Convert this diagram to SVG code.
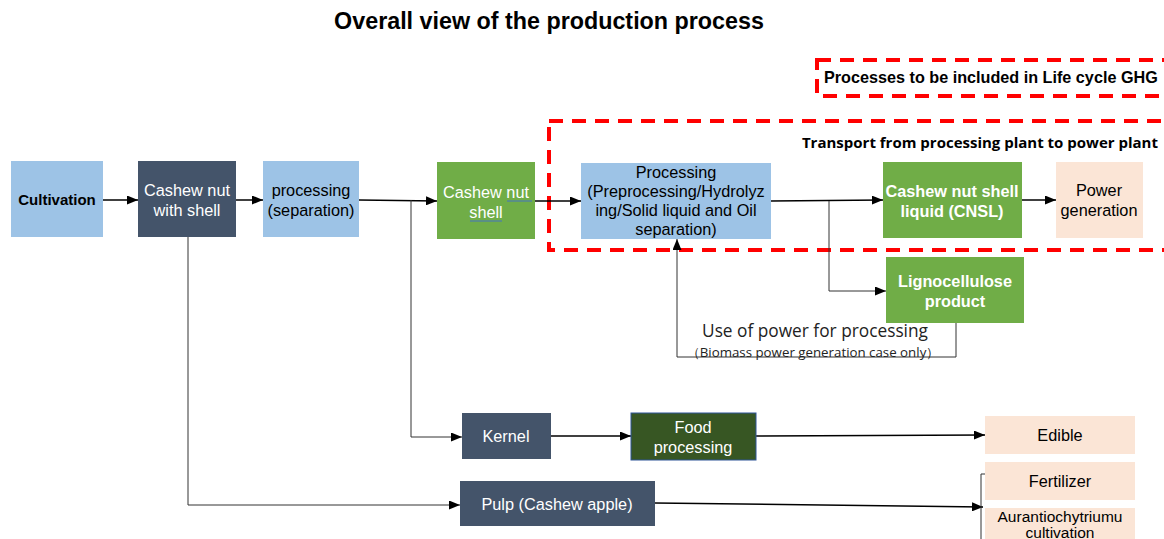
<svg xmlns="http://www.w3.org/2000/svg" width="1164" height="539" viewBox="0 0 1164 539">
<defs>
<marker id="arr" markerWidth="11" markerHeight="9" refX="11" refY="4.5" orient="auto" markerUnits="userSpaceOnUse">
<path d="M0,0 L11,4.5 L0,9 Z" fill="#000"/>
</marker>
<style>
text{font-family:"Liberation Sans",Arial,sans-serif;font-size:16.3px;text-anchor:middle}
.w{fill:#fff}
.k{fill:#000}
.b{font-weight:bold}
.blue{fill:#9DC3E6}
.navy{fill:#44546A}
.green{fill:#70AD47}
.peach{fill:#FBE5D6}
.dash{fill:none;stroke:#FF0000;stroke-width:4;stroke-dasharray:14,9}
.c{fill:none;stroke:#000;stroke-width:1.5}
.ca{fill:none;stroke:#000;stroke-width:1.5;marker-end:url(#arr)}
.cg{fill:none;stroke:#333;stroke-width:1}
.cga{fill:none;stroke:#333;stroke-width:1;marker-end:url(#arr)}
</style>
</defs>
<rect width="1164" height="539" fill="#fff"/>
<text x="549" y="29" class="b" style="font-size:23.3px">Overall view of the production process</text>

<g id="legend">
<rect x="817" y="60" width="360" height="36" class="dash"/>
<text x="824" y="83" class="b" style="text-anchor:start;font-size:16.2px">Processes to be included in Life cycle GHG</text>
</g>
<g id="scope">
<rect x="549" y="121" width="640" height="129" class="dash"/>
<text x="1158" y="148" class="b" style="text-anchor:end;font-family:'Open Sans','Liberation Sans',sans-serif;font-size:15px">Transport from processing plant to power plant</text>
</g>

<g id="connectors">
<path d="M103,200 H138" class="ca"/>
<path d="M236,200 H263" class="ca"/>
<path d="M359,200 L437,201" class="ca"/>
<path d="M411,200 V437 H462" class="cga"/>
<path d="M188,237 V505 H460" class="cga"/>
<path d="M535,201 H581" class="ca"/>
<path d="M771,201 L883,200" class="ca"/>
<path d="M829,201 V291 H886" class="cga"/>
<path d="M1022,200 H1056" class="ca"/>
<path d="M956,323 V357 H677 V239" class="cga"/>
<path d="M551,436 H631" class="ca"/>
<path d="M756,436 L985,435" class="ca"/>
<path d="M655,503 L983,507" class="ca"/>
<path d="M986,474 H981 V539" class="cg"/>
</g>

<g id="cultivation">
<rect x="11" y="161" width="92" height="76" class="blue"/>
<text x="57" y="205" class="b k" style="font-size:15px">Cultivation</text>
</g>
<g id="cashew-nut-with-shell">
<rect x="138" y="161" width="98" height="76" class="navy"/>
<text x="187" y="196" class="w">Cashew nut</text>
<text x="187" y="216" class="w">with shell</text>
</g>
<g id="processing-separation">
<rect x="263" y="161" width="96" height="76" class="blue"/>
<text x="311" y="196" class="k">processing</text>
<text x="311" y="216" class="k">(separation)</text>
</g>
<g id="cashew-nut-shell">
<rect x="437" y="162" width="98" height="77" class="green"/>
<text x="486" y="198" class="w">Cashew nut</text>
<text x="486" y="218" class="w">shell</text>
<path d="M507,201 H532 M470,221 H502" stroke="#4472C4" stroke-width="1"/>
</g>
<g id="processing-main">
<rect x="581" y="163" width="190" height="76" class="blue"/>
<text x="676" y="178" class="k">Processing</text>
<text x="676" y="197" class="k">(Preprocessing/Hydrolyz</text>
<text x="676" y="216" class="k">ing/Solid liquid and Oil</text>
<text x="676" y="235" class="k">separation)</text>
</g>
<g id="cnsl">
<rect x="883" y="162" width="139" height="76" class="green"/>
<text x="952" y="197" class="w b">Cashew nut shell</text>
<text x="952" y="217" class="w b">liquid (CNSL)</text>
</g>
<g id="power-generation">
<rect x="1056" y="162" width="87" height="76" class="peach"/>
<text x="1099" y="196" class="k">Power</text>
<text x="1099" y="216" class="k">generation</text>
</g>
<g id="lignocellulose">
<rect x="886" y="257" width="138" height="66" class="green"/>
<text x="955" y="287" class="w b">Lignocellulose</text>
<text x="955" y="307" class="w b">product</text>
</g>
<g id="power-use-label">
<text x="815" y="337" style="font-family:'Open Sans','Liberation Sans',sans-serif;font-size:17.3px;fill:#222">Use of power for processing</text>
<text x="813" y="357" style="font-family:'Open Sans','Liberation Sans',sans-serif;font-size:13.3px;fill:#222">（Biomass power generation case only）</text>
</g>
<g id="kernel">
<rect x="462" y="413" width="89" height="46" class="navy"/>
<text x="506" y="442" class="w">Kernel</text>
</g>
<g id="food-processing">
<rect x="631" y="413" width="125" height="47" fill="#375623" stroke="#2F5597" stroke-width="1"/>
<text x="693" y="433" class="w">Food</text>
<text x="693" y="453" class="w">processing</text>
</g>
<g id="edible">
<rect x="985" y="416" width="150" height="38" class="peach"/>
<text x="1060" y="441" class="k">Edible</text>
</g>
<g id="pulp">
<rect x="460" y="481" width="195" height="45" class="navy"/>
<text x="557" y="510" class="w">Pulp (Cashew apple)</text>
</g>
<g id="fertilizer">
<rect x="985" y="462" width="150" height="38" class="peach"/>
<text x="1060" y="487" class="k">Fertilizer</text>
</g>
<g id="aurantiochytriumu">
<rect x="985" y="508" width="150" height="40" class="peach"/>
<text x="1060" y="522" class="k" style="font-size:15.5px">Aurantiochytriumu</text>
<text x="1060" y="538" class="k" style="font-size:15.5px">cultivation</text>
</g>
</svg>
